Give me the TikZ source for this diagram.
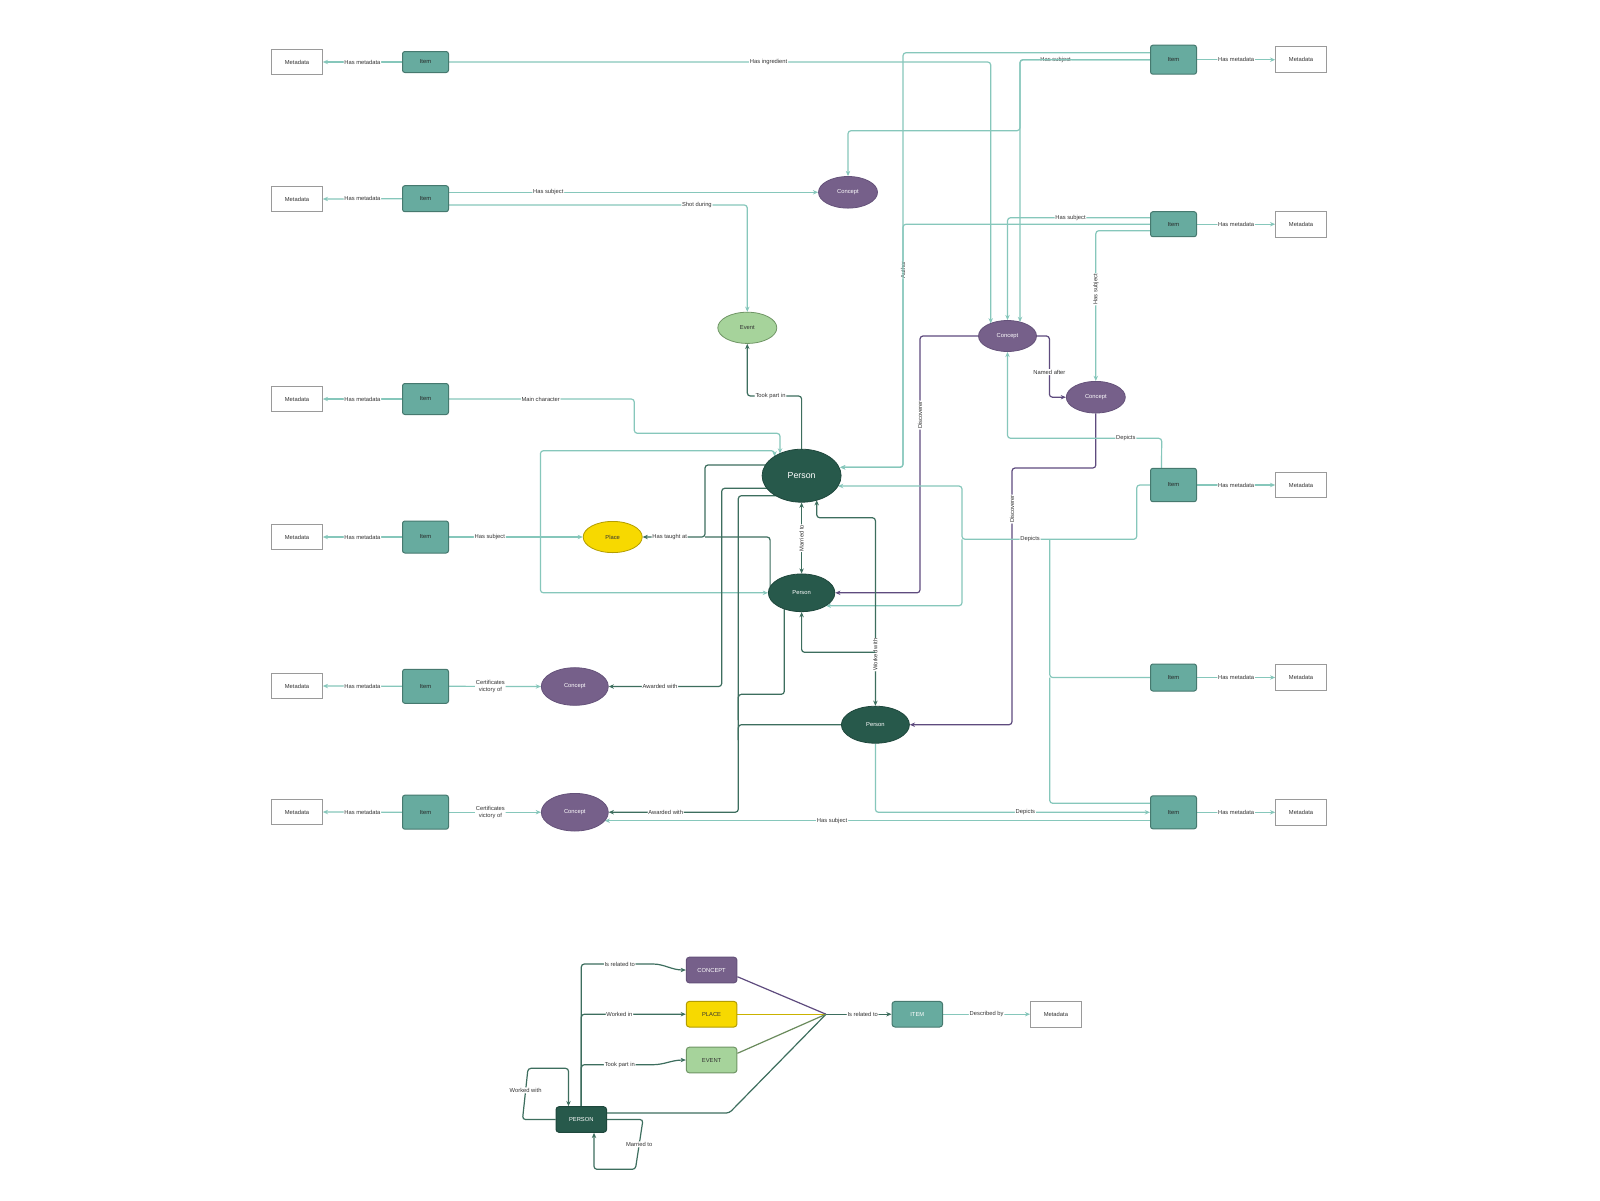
\documentclass[tikz,border=0pt]{standalone}
\usepackage{fontspec}
\setmainfont{Liberation Sans}
\usetikzlibrary{calc,arrows.meta,shapes.geometric}
\pgfdeclarelayer{back}
\pgfdeclarelayer{bg}
\pgfsetlayers{back,bg,main}
\definecolor{itemF}{HTML}{67AB9F}
\definecolor{itemD}{HTML}{46796F}
\definecolor{conF}{HTML}{76608A}
\definecolor{conD}{HTML}{65527A}
\definecolor{perF}{HTML}{27594B}
\definecolor{perD}{HTML}{1E473C}
\definecolor{plaF}{HTML}{F7D900}
\definecolor{plaD}{HTML}{B39D00}
\definecolor{evF}{HTML}{A6D39B}
\definecolor{evD}{HTML}{6F9565}
\definecolor{metaD}{HTML}{9A9A9A}
\definecolor{tealE}{HTML}{86C7BB}
\definecolor{darkE}{HTML}{3D6E5E}
\definecolor{purE}{HTML}{5E4B7E}
\definecolor{yelE}{HTML}{C9B200}
\definecolor{oliE}{HTML}{6A8B5C}
\definecolor{txt}{HTML}{333333}
\begin{document}
\begin{tikzpicture}[x=0.5pt,y=-0.5pt,
  base/.style={inner sep=0pt, font=\fontsize{2.9}{3.4}\selectfont},
  meta/.style={base, rectangle, draw=metaD, fill=white, line width=0.5pt, minimum width=25.3pt, minimum height=12.8pt, text=txt},
  item/.style={base, rectangle, rounded corners=1.2pt, draw=itemD, fill=itemF, line width=0.5pt, minimum width=23pt, text=black!85},
  concept/.style={base, ellipse, draw=conD, fill=conF, line width=0.4pt, minimum width=29.5pt, minimum height=15.8pt, text=white},
  person/.style={base, ellipse, draw=perD, fill=perF, line width=0.4pt, text=white},
  place/.style={base, ellipse, draw=plaD, fill=plaF, line width=0.4pt, minimum width=29.5pt, minimum height=15.6pt, text=txt},
  event/.style={base, ellipse, draw=evD, fill=evF, line width=0.4pt, minimum width=29.5pt, minimum height=15.6pt, text=txt},
  lgd/.style={base, rectangle, rounded corners=1.5pt, line width=0.5pt, minimum width=25.3pt, minimum height=12.8pt},
  lbl/.style={base, fill=white, text=txt, inner sep=0.4pt},
  rot/.style={rotate=90},
  te/.style={draw=tealE, line width=0.6pt, rounded corners=1.5pt},
  de/.style={draw=darkE, line width=0.6pt, rounded corners=1.5pt},
  pe/.style={draw=purE, line width=0.6pt, rounded corners=1.5pt},
  arr/.style={-{Stealth[length=2.6pt,width=2.2pt]}},
  darr/.style={{Stealth[length=2.6pt,width=2.2pt]}-{Stealth[length=2.6pt,width=2.2pt]}}
]
\begin{pgfonlayer}{back}
\fill[white] (0,0) rectangle (1600,1200);
\end{pgfonlayer}
\useasboundingbox (0,0) rectangle (1600,1200);

% ---------- left column ----------
\node[meta] (M1) at (297,62) {Metadata};
\node[meta] (M2) at (297,199) {Metadata};
\node[meta] (M3) at (297,399) {Metadata};
\node[meta] (M4) at (297,537) {Metadata};
\node[meta] (M5) at (297,686) {Metadata};
\node[meta] (M6) at (297,812) {Metadata};
\node[item, minimum height=10.5pt] (I1) at (425.5,62) {Item};
\node[item, minimum height=13pt] (I2) at (425.5,198.7) {Item};
\node[item, minimum height=15.5pt] (I3) at (425.5,399) {Item};
\node[item, minimum height=16pt] (I4) at (425.5,537) {Item};
\node[item, minimum height=17pt] (I5) at (425.5,686.3) {Item};
\node[item, minimum height=17pt] (I6) at (425.5,812.2) {Item};

% ---------- right column ----------
\node[item, minimum height=14.5pt] (IR1) at (1173.5,59.7) {Item};
\node[item, minimum height=12.5pt] (IR2) at (1173.5,224.2) {Item};
\node[item, minimum height=16.7pt] (IR4) at (1173.5,485) {Item};
\node[item, minimum height=13.5pt] (IR5) at (1173.5,677.5) {Item};
\node[item, minimum height=16.5pt] (IR6) at (1173.5,812.3) {Item};
\node[meta] (MR1) at (1301,59.7) {Metadata};
\node[meta] (MR2) at (1301,224.2) {Metadata};
\node[meta] (MR4) at (1301,485) {Metadata};
\node[meta] (MR5) at (1301,677.5) {Metadata};
\node[meta] (MR6) at (1301,812.3) {Metadata};

% ---------- ellipses ----------
\node[concept] (CT) at (848,192.3) {Concept};
\node[event] (EV) at (747.3,327.8) {Event};
\node[concept, minimum width=29pt, minimum height=15.5pt] (CM) at (1007.5,336) {Concept};
\node[concept] (CR) at (1095.8,397.2) {Concept};
\node[person, minimum width=39.5pt, minimum height=26.5pt, font=\fontsize{4.4}{5}\selectfont] (PB) at (801.6,475.7) {Person};
\node[place] (PL) at (612.7,537) {Place};
\node[person, minimum width=33.25pt, minimum height=18.85pt] (PM) at (801.6,592.8) {Person};
\node[person, minimum width=34pt, minimum height=18.5pt] (PW) at (875.4,724.7) {Person};
\node[concept, minimum width=33.5pt, minimum height=18.8pt] (C5) at (574.8,686.5) {Concept};
\node[concept, minimum width=33.5pt, minimum height=18.8pt] (C6) at (574.8,812.2) {Concept};

% ---------- legend ----------
\node[lgd, draw=conD, fill=conF, text=white] (LC) at (711.6,970) {CONCEPT};
\node[lgd, draw=plaD, fill=plaF, text=txt] (LP) at (711.6,1014.2) {PLACE};
\node[lgd, draw=evD, fill=evF, text=txt] (LE) at (711.6,1060) {EVENT};
\node[lgd, draw=perD, fill=perF, text=white] (LPer) at (581.3,1119.5) {PERSON};
\node[lgd, draw=itemD, fill=itemF, text=white] (LI) at (917.3,1014.2) {ITEM};
\node[lgd, draw=metaD, fill=white, text=txt, rounded corners=0pt] (LM) at (1055.9,1014.2) {Metadata};
\coordinate (hub) at (826,1014.2);

\begin{pgfonlayer}{bg}
% has metadata
\foreach \k in {1,...,6}{
  \draw[te,arr] (I\k.west) -- node[lbl,pos=0.5]{Has metadata} (M\k.east);
}
\foreach \k in {1,2,4,5,6}{
  \draw[te,arr] (IR\k.east) -- node[lbl,pos=0.5]{Has metadata} (MR\k.west);
}

% Has ingredient
\draw[te,arr] (I1.east) -- node[lbl,pos=0.59]{Has ingredient} (990.7,62) -- ($(CM)+(-16.8,-12.6)$);
% Author
\draw[te,arr] ($(IR1.west)+(0,-7)$) -- (903,52.7) -- node[lbl,rot,pos=0.524]{Author} (903,467.3) -- ($(PB)+(38.5,-8.4)$);
\draw[te,arr] (IR2.west) -- (903,224.2) -- (903,467.3) -- ($(PB)+(38.5,-8.4)$);
% Has subject from IR1
\draw[te,arr] (IR1.west) -- node[lbl,pos=0.726]{Has subject} (1020,59.7) -- (1020,130.7) -- (848,130.7) -- (CT.north);
\draw[te,arr] (IR1.west) -- (1020,59.7) -- ($(CM)+(12.5,-14)$);
% row 2
\draw[te,arr] ($(I2.east)+(0,-6.4)$) -- node[lbl,pos=0.269]{Has subject} (CT.west);
\draw[te,arr] ($(I2.east)+(0,6.3)$) -- node[lbl,pos=0.831]{Shot during} (747.3,205) -- (EV.north);
% IR2 has subject
\draw[te,arr] ($(IR2.west)+(0,-6.5)$) -- node[lbl,pos=0.558]{Has subject} (1007.5,217.7) -- (CM.north);
\draw[te,arr] ($(IR2.west)+(0,6.5)$) -- (1095.8,230.7) -- node[lbl,rot,pos=0.39]{Has subject} (CR.north);
% Named after
\draw[pe,arr] (CM.east) -- (1049.4,336) -- node[lbl,pos=0.59]{Named after} (1049.4,397.2) -- (CR.west);
% Discoverer
\draw[pe,arr] (CM.west) -- (920,336) -- node[lbl,rot,pos=0.308]{Discoverer} (920,592.8) -- (PM.east);
\draw[pe,arr] (CR.south) -- (1095.8,468) -- (1012,468) -- node[lbl,rot,pos=0.16]{Discoverer} (1012,724.7) -- (PW.east);
% Depicts IR4
\draw[te,arr] ($(IR4.north)+(-12,0)$) -- (1161.7,438.3) -- node[lbl,pos=0.233]{Depicts} (1007.5,438.3) -- (CM.south);
\coordinate (dj) at (962,539.3);
\draw[te,arr] (IR4.west) -- (1136.7,485) -- (1136.7,539.3) -- node[lbl,pos=0.61]{Depicts} (dj) -- (962,486) -- ($(PB)+(36.4,10.3)$);
\draw[te,arr] (dj) -- (962,605.7) -- ($(PM)+(24.2,12.9)$);
\draw[te] (IR5.west) -- (1049.7,677.5) -- (1049.7,539.3);
\draw[te] ($(IR6.west)+(0,-9)$) -- (1049.7,803.3) -- (1049.7,677.5);
% Depicts person low
\draw[te,arr] (PW.south) -- (875.4,812.3) -- node[lbl,pos=0.546]{Depicts} (IR6.west);
% Has subject IR6 -> C6
\draw[te,arr] ($(IR6.west)+(0,8.4)$) -- node[lbl,pos=0.583]{Has subject} ($(C6)+(29.9,8.5)$);
% Main character
\draw[te,arr] (I3.east) -- node[lbl,pos=0.495]{Main character} (634.3,399) -- (634.3,433.3) -- (780,433.3) -- ($(PB)+(-21.6,-22.2)$);
% Has subject row 4
\draw[te,arr] (I4.east) -- node[lbl,pos=0.305]{Has subject} (PL.west);
\draw[te,arr] (540.4,537) -- (540.4,450.7) -- (774.5,450.7) -- ($(PB)+(-27.1,-19.3)$);
\draw[te,arr] (540.4,537) -- (540.4,592.8) -- (PM.west);
% Has taught at
\draw[de,arr] ($(PB)+(-36.1,-10.7)$) -- (705,465) -- (705,537) -- node[lbl,pos=0.567]{Has taught at} (PL.east);
\draw[de] ($(PM)+(-31.5,-6)$) -- (770.1,537) -- (705,537);
% Awarded with
\draw[de,arr] ($(PB)+(-34.8,12.6)$) -- (721.7,488.3) -- (721.7,686.5) -- node[lbl,pos=0.546]{Awarded with} (C5.east);
\draw[de,arr] ($(PB)+(-26,20)$) -- (738.3,495.7) -- (738.3,812.2) -- node[lbl,pos=0.56]{Awarded with} (C6.east);
\draw[de] ($(PM)+(-17.3,16.1)$) -- (784.3,694.3) -- (738.3,694.3) -- (738.3,720);
\draw[de] (PW.west) -- (738.3,724.7) -- (738.3,740);
% Took part in
\draw[de,arr] (PB.north) -- (801.6,396) -- node[lbl,pos=0.573]{Took part in} (747.3,396) -- (EV.south);
% Married to
\draw[de,darr] (PB.south) -- node[lbl,rot,pos=0.5]{Married to} (PM.north);
% Worked with
\draw[de,darr] ($(PB)+(15.1,24.5)$) -- (816.7,517.7) -- (875.4,517.7) -- node[lbl,rot,pos=0.728]{Worked with} (PW.north);
\draw[de,arr] (875.4,652.3) -- (801.6,652.3) -- (PM.south);
% Certificates victory of
\draw[te,arr] (I5.east) -- node[lbl,pos=0.45,align=center]{Certificates\\victory of} (C5.west);
\draw[te,arr] (I6.east) -- node[lbl,pos=0.45,align=center]{Certificates\\victory of} (C6.west);

% ---------- legend edges ----------
\draw[de,arr] (LPer.north) -- (581.3,964) -- node[lbl,pos=0.56]{Is related to} (650,964) to[out=0,in=180] (LC.west);
\draw[de,arr] (LPer.north) -- (581.3,1014.2) -- node[lbl,pos=0.365]{Worked in} (LP.west);
\draw[de,arr] (LPer.north) -- (581.3,1064.7) -- node[lbl,pos=0.56]{Took part in} (650,1064.7) to[out=0,in=180] (LE.west);
\draw[de,arr] (LPer.west) -- (522.5,1119.5) -- node[lbl,pos=0.57]{Worked with} (528,1068.3) -- (568.5,1068.3) -- ($(LPer.north)+(-12.8,0)$);
\draw[de,arr] (LPer.east) -- (643,1119.5) -- node[lbl,pos=0.5]{Married to} (635.4,1169.3) -- (594,1169.3) -- ($(LPer.south)+(12.7,0)$);
\draw[de] ($(LPer.east)+(0,-6.5)$) -- (729.2,1113) -- (hub);
\draw[draw=purE, line width=0.6pt] ($(LC.east)+(0,6.7)$) -- (hub);
\draw[draw=yelE, line width=0.6pt] (LP.east) -- (hub);
\draw[draw=oliE, line width=0.6pt] ($(LE.east)+(0,-6.7)$) -- (hub);
\draw[de,arr] (hub) -- node[lbl,pos=0.56]{Is related to} (LI.west);
\draw[te,arr] (LI.east) -- node[lbl,pos=0.5]{Described by} (LM.west);
\end{pgfonlayer}
\end{tikzpicture}
\end{document}
